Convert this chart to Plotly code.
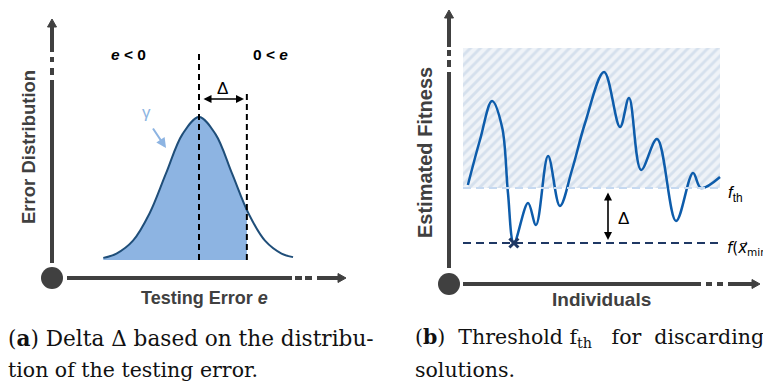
import plotly.graph_objects as go

W, H = 763, 385

# ---------------- data: panel (a) error distribution ----------------
err_e = [-2.9, -2.5, -2.0, -1.5, -1.0, -0.5, 0.0, 0.5, 1.0, 1.5, 2.0, 2.5, 2.85]
err_density = [0.015, 0.045, 0.135, 0.325, 0.605, 0.88, 1.0, 0.88, 0.605, 0.325, 0.135, 0.045, 0.02]
DELTA_E = 1.45          # delta (in units of sigma)
DENS_AT_DELTA = 0.35    # density read at e = delta

# ---------------- data: panel (b) estimated fitness ----------------
indiv = [1.9, 6.6, 11.3, 15.2, 17.5, 19.8, 25.3, 28.4, 33.1, 37.7, 42.4, 47.5,
         54.9, 61.1, 64.6, 69.3, 75.5, 82.9, 89.5, 92.6, 100]
fitness = [98, 143, 182, 156, 90, 40, 80, 58, 127, 77, 113, 160,
           211, 156, 185, 113, 144, 62, 110, 95, 106]
F_TH = 95
F_MIN = 40
MIN_IDX = 19.8
HATCH_TOP = 235
IND_MAX = 100

# ---------------- coordinate helpers (layout only) ----------------
def P(px, py):
    return px / W, 1 - py / H

def ax_a(px):  # pixel -> panel a x data
    return (px - 199) / 33.0

def ay_a(py):
    return (260 - py) / 143.0

def ax_b(px):
    return (px - 463) / 2.57

def ay_b(py):
    return 283 - py

AXC = '#404040'
fig = go.Figure()

# ---- panel (a) traces
fill_e = [e for e in err_e if e < DELTA_E] + [DELTA_E]
fill_d = [d for e, d in zip(err_e, err_density) if e < DELTA_E] + [DENS_AT_DELTA]
fig.add_trace(go.Scatter(x=fill_e, y=fill_d, mode='lines', line=dict(width=0, shape='spline'),
                         fill='tozeroy', fillcolor='#8db4e2', hoverinfo='skip', showlegend=False,
                         xaxis='x', yaxis='y'))
fig.add_trace(go.Scatter(x=err_e, y=err_density, mode='lines',
                         line=dict(color='#1f4e79', width=2, shape='spline'),
                         showlegend=False, xaxis='x', yaxis='y'))

# ---- panel (b) traces
fig.add_trace(go.Scatter(x=[0, IND_MAX, IND_MAX, 0, 0], y=[F_TH, F_TH, HATCH_TOP, HATCH_TOP, F_TH],
                         mode='none', fill='toself', fillcolor='#eff3f8',
                         fillpattern=dict(shape='/', fgcolor='#bccde1', bgcolor='#eff3f8', size=7, solidity=0.42),
                         hoverinfo='skip', showlegend=False, xaxis='x2', yaxis='y2'))
fig.add_trace(go.Scatter(x=indiv, y=fitness, mode='lines',
                         line=dict(color='#0d5cab', width=2.5, shape='spline'),
                         showlegend=False, xaxis='x2', yaxis='y2'))
fig.add_trace(go.Scatter(x=[MIN_IDX], y=[F_MIN], mode='markers',
                         marker=dict(symbol='x-thin', size=9, line=dict(color='#1f3864', width=3)),
                         showlegend=False, xaxis='x2', yaxis='y2'))

shapes = []
# dashed guide lines panel a
shapes.append(dict(type='line', xref='x', yref='y', x0=0, x1=0, y0=0, y1=ay_a(52),
                   line=dict(color='black', width=2, dash='6px,4px')))
shapes.append(dict(type='line', xref='x', yref='y', x0=DELTA_E, x1=DELTA_E, y0=0, y1=ay_a(92),
                   line=dict(color='black', width=2, dash='6px,4px')))
# dashed lines panel b
shapes.append(dict(type='line', xref='x2', yref='y2', x0=0, x1=IND_MAX, y0=F_TH, y1=F_TH,
                   line=dict(color='#c6d9f0', width=2, dash='8px,5px')))
shapes.append(dict(type='line', xref='x2', yref='y2', x0=0, x1=IND_MAX, y0=F_MIN, y1=F_MIN,
                   line=dict(color='#1f3864', width=2, dash='8px,5px')))


def seg(p0, p1, w=4):
    x0, y0 = P(*p0)
    x1, y1 = P(*p1)
    return dict(type='line', xref='paper', yref='paper', x0=x0, y0=y0, x1=x1, y1=y1,
                line=dict(color=AXC, width=w))


def head_up(x, ty):
    a = P(x - 4.5, ty + 8); b = P(x, ty); c = P(x + 4.5, ty + 8)
    return dict(type='path', xref='paper', yref='paper',
                path=f'M {a[0]},{a[1]} L {b[0]},{b[1]} L {c[0]},{c[1]} Z',
                fillcolor=AXC, line=dict(color=AXC, width=1))


def head_right(tx, y):
    a = P(tx - 8, y - 4.5); b = P(tx, y); c = P(tx - 8, y + 4.5)
    return dict(type='path', xref='paper', yref='paper',
                path=f'M {a[0]},{a[1]} L {b[0]},{b[1]} L {c[0]},{c[1]} Z',
                fillcolor=AXC, line=dict(color=AXC, width=1))


def circ(cx, cy, r=11):
    x0, y0 = P(cx - r, cy + r)
    x1, y1 = P(cx + r, cy - r)
    return dict(type='circle', xref='paper', yref='paper', x0=x0, y0=y0, x1=x1, y1=y1,
                fillcolor=AXC, line=dict(color=AXC, width=0))

# panel a axes
xa, ya = 52, 278
shapes += [seg((xa, 263), (xa, 80)), seg((xa, 75), (xa, 68)), seg((xa, 62), (xa, 57)),
           seg((xa, 52), (xa, 26)), head_up(xa, 19),
           seg((67, ya), (292, ya)), seg((295, ya), (302, ya)), seg((305, ya), (312, ya)),
           seg((317, ya), (339, ya)), head_right(346, ya), circ(xa, ya)]
# panel b axes
xb, yb = 449, 284
shapes += [seg((xb, 268), (xb, 72)), seg((xb, 67), (xb, 60)), seg((xb, 56), (xb, 50)),
           seg((xb, 47), (xb, 17)), head_up(xb, 10),
           seg((463, yb), (701, yb)), seg((706, yb), (712, yb)), seg((717, yb), (723, yb)),
           seg((728, yb), (753, yb)), head_right(760, yb), circ(xb, yb)]

ann = []
def txt(px, py, text, size=14, color='black', family='Liberation Sans', xanchor='center', angle=0):
    x, y = P(px, py)
    ann.append(dict(xref='paper', yref='paper', x=x, y=y, text=text, showarrow=False,
                    xanchor=xanchor, yanchor='middle', textangle=angle,
                    font=dict(size=size, color=color, family=family)))

# panel a text
txt(28, 147, '<b>Error Distribution</b>', 18.5, AXC, angle=-90)
txt(204, 298, '<b>Testing Error <i>e</i></b>', 18, AXC)
txt(128, 54, '<b><i>e</i> &lt; 0</b>', 15.5)
txt(270, 54, '<b>0 &lt; <i>e</i></b>', 15.5)
txt(222, 89, 'Δ', 17)
txt(146, 112, 'γ', 17, '#8db4e2')
# gamma arrow
ann.append(dict(xref='x', yref='y', x=ax_a(166), y=ay_a(148), ax=ax_a(152), ay=ay_a(127),
                axref='x', ayref='y', text='', showarrow=True, arrowhead=2, arrowsize=1,
                arrowwidth=2, arrowcolor='#8db4e2'))
# delta arrow (a)
ann.append(dict(xref='x', yref='y', x=ax_a(244), y=ay_a(99), ax=ax_a(202), ay=ay_a(99),
                axref='x', ayref='y', text='', showarrow=True, arrowhead=2, arrowside='end+start',
                arrowsize=1, arrowwidth=1.6, arrowcolor='black'))

# panel b text
txt(425, 153, '<b>Estimated Fitness</b>', 20, AXC, angle=-90)
txt(601, 299, '<b>Individuals</b>', 19, AXC)
txt(616, 218, 'Δ', 17, xanchor='left')
txt(726, 194, '<i>f</i><sub>th</sub>', 17, xanchor='left')
txt(725, 248, '<i>f</i>(<i>x\u20d7</i><sub>min</sub>)', 15, family='DejaVu Sans', xanchor='left')
# delta arrow (b)
ann.append(dict(xref='x2', yref='y2', x=ax_b(608), y=F_MIN + 3, ax=ax_b(608), ay=F_TH - 3,
                axref='x2', ayref='y2', text='', showarrow=True, arrowhead=2, arrowside='end+start',
                arrowsize=1, arrowwidth=1.6, arrowcolor='black'))

# captions
CF = 'DejaVu Serif'
CS = 20.5
NB = '\u00a0'
txt(6, 338, '(<b>a</b>) Delta Δ based on the distribu-', 21.6, '#111111', CF, 'left')
txt(6, 370, 'tion of the testing error.', CS, '#111111', CF, 'left')
txt(413, 338, f'(<b>b</b>){NB}{NB}Threshold f<sub>th</sub>{NB}{NB}{NB}for{NB}{NB}discarding', CS, '#111111', CF, 'left')
txt(413, 370, 'solutions.', CS, '#111111', CF, 'left')

fig.update_layout(
    width=W, height=H, margin=dict(l=0, r=0, t=0, b=0),
    paper_bgcolor='white', plot_bgcolor='rgba(0,0,0,0)',
    xaxis=dict(domain=[0, 380 / W], range=[ax_a(0), ax_a(380)], visible=False),
    yaxis=dict(domain=[0, 1], range=[ay_a(385), ay_a(0)], visible=False),
    xaxis2=dict(domain=[380 / W, 1], range=[ax_b(380), ax_b(763)], visible=False),
    yaxis2=dict(domain=[0, 1], range=[ay_b(385), ay_b(0)], visible=False, anchor='x2'),
    shapes=shapes, annotations=ann, showlegend=False,
)
fig.write_html('out.html', config={'displayModeBar': False},
               post_script="document.body.style.margin='0px';")
